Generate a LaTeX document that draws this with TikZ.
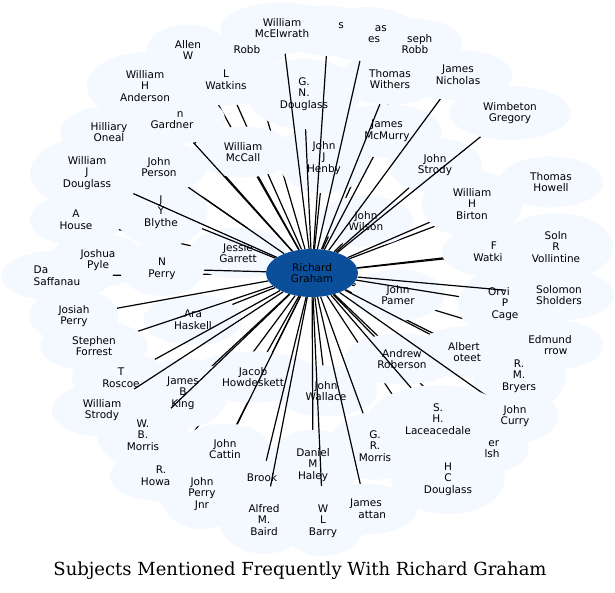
\documentclass[tikz,border=0pt]{standalone}
\usepackage{fontspec}
\usetikzlibrary{shapes.geometric,calc}
\newfontfamily\namefont{DejaVu Sans}
\newfontfamily\titlefont{DejaVu Serif}
\definecolor{cloudblue}{RGB}{244,248,255}
\definecolor{hubblue}{RGB}{11,79,155}
\pgfdeclarelayer{clouds}
\pgfsetlayers{clouds,main}

\begin{document}
\begin{tikzpicture}[x=1pt,y=-1pt,
  who/.style={ellipse,align=center,inner xsep=16pt,inner ysep=8pt,font=\namefont\fontsize{10.5}{11.7}\selectfont},
  hub/.style={ellipse,fill=hubblue,minimum width=92pt,minimum height=48pt,inner sep=0pt,align=center,font=\namefont\fontsize{10.5}{11.7}\selectfont},
  link/.style={line width=1.2pt},
  cloud/.style={fill=cloudblue}]
  \useasboundingbox (0,0) rectangle (615,592);
  \node[hub] (rg) at (312,273) {Richard\\Graham};
  % names round the hub
  \node[who] (wmcelwrath) at (282,28) {William\\McElwrath};
  \node[who] (jamess) at (328,31) {\phantom{Jame}s\\\phantom{M}};
  \node[who] (thomasj) at (366,34) {\phantom{Thom}as\\\phantom{Jon}es};
  \node[who] (josephrobb) at (415,44) {\phantom{Jo}seph\\Robb};
  \node[who] (allenw) at (188,50) {Allen\\W};
  \node[who] (robb) at (247,50) {Robb};
  \node[who] (wanderson) at (145,86) {William\\H\\Anderson};
  \node[who] (lwatkins) at (226,80) {L\\Watkins};
  \node[who] (gndouglass) at (304,94) {G.\\N.\\Douglass};
  \node[who] (twithers) at (390,79) {Thomas\\Withers};
  \node[who] (jnicholas) at (458,75) {James\\Nicholas};
  \node[who] (wgregory) at (510,113) {Wimbeton\\Gregory};
  \node[who] (honeal) at (109,132) {Hilliary\\Oneal};
  \node[who] (gardner) at (172,119) {\phantom{Joh}n\\Gardner};
  \node[who] (wmccall) at (243,152) {William\\McCall};
  \node[who] (jhenby) at (324,158) {John\\J\\Henby};
  \node[who] (jmcmurry) at (387,131) {James\\McMurry};
  \node[who] (jstrody) at (435,165) {John\\Strody};
  \node[who] (wjdouglass) at (87,173) {William\\J\\Douglass};
  \node[who] (jperson) at (159,167) {John\\Person};
  \node[who] (thowell) at (551,182) {Thomas\\Howell};
  \node[who] (whbirton) at (472,204) {William\\H\\Birton};
  \node[who] (ahouse) at (76,220) {A\\House};
  \node[who] (jyblythe) at (161,212) {J\\Y\\Blythe};
  \node[who] (jwilson) at (366,221) {John\\Wilson};
  \node[who] (jgarrett) at (238,253) {Jessie\\Garrett};
  \node[who] (vollintine) at (556,247) {Soln\\R\\Vollintine};
  \node[who] (fwatkins) at (494,252) {F\\Watki\phantom{ns}};
  \node[who] (jpyle) at (98,260) {Joshua\\Pyle};
  \node[who] (nperry) at (162,269) {N\\Perry};
  \node[who,align=left] (saffanau) at (57,276) {Da\\Saffanau};
  \node[who] (ssholders) at (559,295) {Solomon\\Sholders};
  \node[who] (jpamer) at (398,295) {John\\Pamer};
  \node[who] (opcage) at (505,304) {Orvi\phantom{lle}\\P\\Cage};
  \node[who] (josiahperry) at (74,316) {Josiah\\Perry};
  \node[who] (ahaskell) at (193,320) {Ara\\Haskell};
  \node[who] (sforrest) at (94,346) {Stephen\\Forrest};
  \node[who] (apoteet) at (464,352) {Albert\\\phantom{P}oteet};
  \node[who] (efarrow) at (550,345) {Edmund\\\phantom{Fa}rrow};
  \node[who] (troscoe) at (121,378) {T\\Roscoe};
  \node[who] (jhowdeskett) at (253,377) {Jacob\\Howdeskett};
  \node[who] (aroberson) at (402,359) {Andrew\\Roberson};
  \node[who] (rmbryers) at (519,376) {R.\\M.\\Bryers};
  \node[who] (jbking) at (183,393) {James\\B\\King};
  \node[who] (jwallace) at (326,391) {John\\Wallace};
  \node[who] (wstrody) at (102,410) {William\\Strody};
  \node[who] (jcurry) at (515,416) {John\\Curry};
  \node[who] (shlaceacedale) at (438,419) {S.\\H.\\Laceacedale};
  \node[who] (wbmorris) at (143,435) {W.\\B.\\Morris};
  \node[who] (grmorris) at (375,446) {G.\\R.\\Morris};
  \node[who] (bwalsh) at (484,448) {\phantom{Bak}er\\\phantom{Wa}lsh};
  \node[who] (jcattin) at (225,449) {John\\Cattin};
  \node[who] (dmhaley) at (313,465) {Daniel\\M\\Haley};
  \node[who] (hcdouglass) at (448,479) {H\\C\\Douglass};
  \node[who] (rhoward) at (161,476) {R.\\Howa\phantom{rd}};
  \node[who] (brook) at (262,478) {Brook};
  \node[who] (jperryjnr) at (202,494) {John\\Perry\\Jnr};
  \node[who] (ambaird) at (264,520) {Alfred\\M.\\Baird};
  \node[who] (wlbarry) at (323,521) {W\\L\\Barry};
  \node[who] (jgrattan) at (366,509) {James\\\phantom{Gr}attan};
  % each link lies under the clouds drawn after it
  \begin{pgfonlayer}{clouds}
  \foreach \who in {allenw,robb,wanderson,honeal,lwatkins,ahouse,jpyle,saffanau,
    vollintine,thowell,rhoward,jperryjnr,hcdouglass,bwalsh,efarrow,rmbryers,josephrobb,
    jwilson,jgarrett,jpamer,jhenby,jwallace,jhowdeskett,aroberson,ahaskell,
    wmccall,nperry,jmcmurry,jyblythe,jstrody,apoteet,jbking,gndouglass,fwatkins,grmorris,
    jperson,dmhaley,opcage,jcattin,gardner,twithers,brook,troscoe,sforrest,wbmorris,
    josiahperry,jgrattan,wjdouglass,jnicholas,wmcelwrath,ssholders,thomasj,jcurry,wlbarry,
    jamess,wstrody,ambaird,wgregory,shlaceacedale,whbirton}{
    \draw[link] (rg) -- (\who);
    \fill[cloud] let \p1=($(\who.east)-(\who.center)$), \p2=($(\who.north)-(\who.center)$) in
      (\who.center) ellipse [x radius=\x1, y radius=\y2];
  }
  \end{pgfonlayer}
  \node[font=\titlefont\fontsize{18}{22}\selectfont] (title) at (300,571) {Subjects Mentioned Frequently With Richard Graham};
\end{tikzpicture}
\end{document}
